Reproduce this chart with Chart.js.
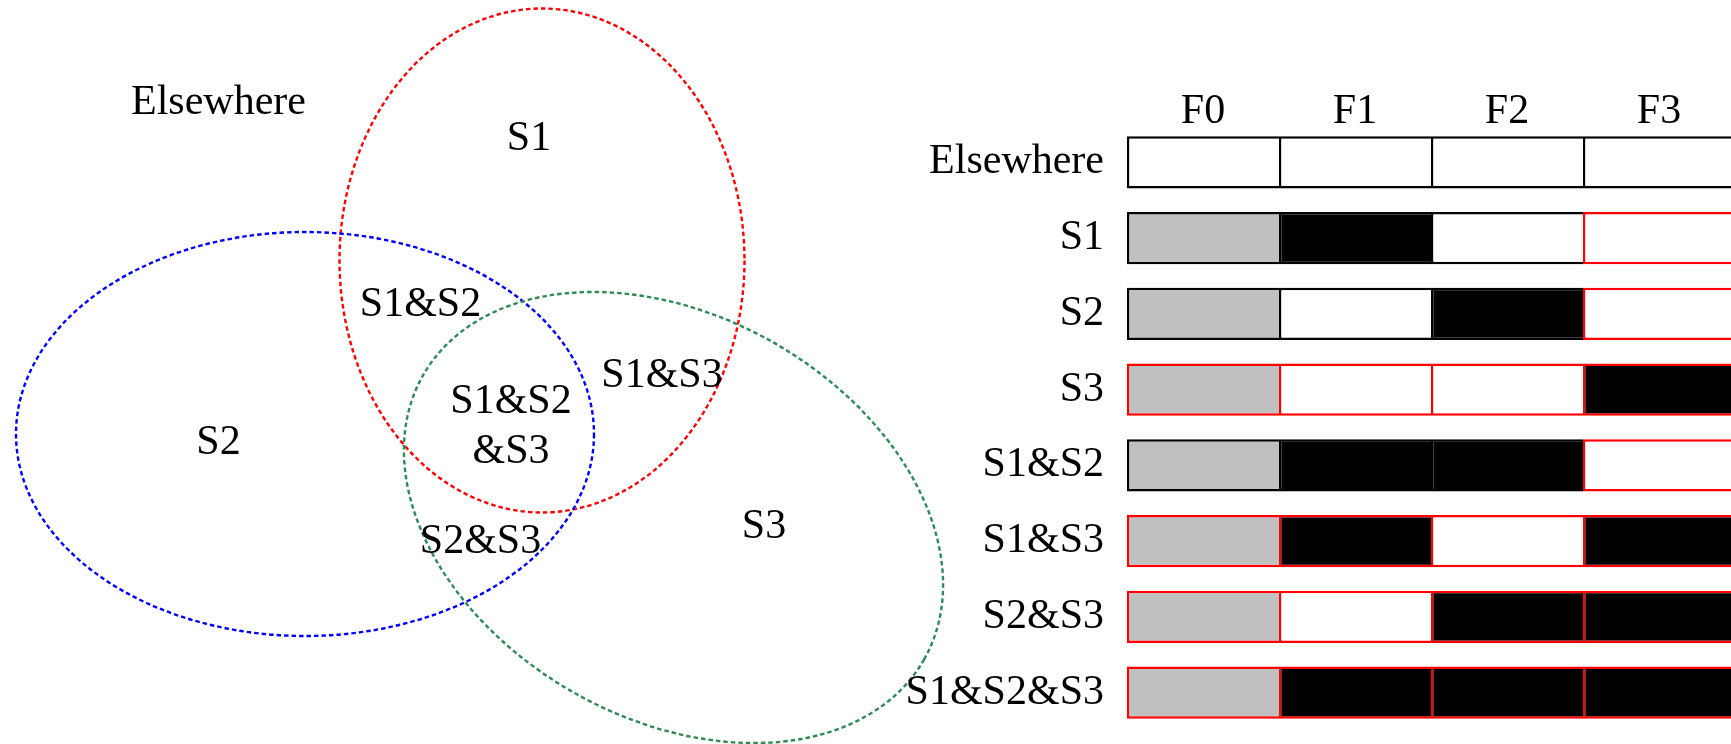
<!DOCTYPE html>
<html>
<head>
<meta charset="utf-8">
<script src="https://cdn.jsdelivr.net/npm/chart.js@4.4.0/dist/chart.umd.min.js"></script>
<style>
  html, body { margin: 0; padding: 0; background: #fff; overflow: hidden; width: 1731px; height: 744px; }
  #venn { position: absolute; left: 0; top: 0; }
  #grid { position: absolute; left: 860px; top: 0; }
</style>
</head>
<body>
<canvas id="venn" width="1731" height="744"></canvas>
<canvas id="grid" width="880" height="744"></canvas>
<script>
// Venn sets: centre, radii and tilt of each ellipse (in page units)
const vennSets = ['S1', 'S2', 'S3'];
const vennCx = [542, 305, 673.5];
const vennCy = [260.5, 434, 517.5];
const vennRx = [202.5, 289, 288];
const vennRy = [252, 202, 201.5];
const vennTilt = [0, 0, 29.5]; // degrees

// region names and where they sit
const regionText = ['Elsewhere', 'S1', 'S2', 'S1&S2', 'S1&S3', ['S1&S2', '&S3'], 'S2&S3', 'S3'];
const regionX = [218.5, 529, 218.5, 420.5, 662, 511, 480.5, 764];
const regionY = [114, 150, 454, 315.6, 387, 412.7, 553, 538];

// Table of regions x frames
const rows = ['Elsewhere', 'S1', 'S2', 'S3', 'S1&S2', 'S1&S3', 'S2&S3', 'S1&S2&S3'];
const columns = ['F0', 'F1', 'F2', 'F3'];
const span = [1, 1, 1, 1, 1, 1, 1, 1];

// w = white, k = black, g = grey
const f0State = ['w', 'g', 'g', 'g', 'g', 'g', 'g', 'g'];
const f1State = ['w', 'k', 'w', 'w', 'k', 'k', 'w', 'k'];
const f2State = ['w', 'w', 'k', 'w', 'k', 'w', 'k', 'k'];
const f3State = ['w', 'w', 'w', 'k', 'w', 'k', 'k', 'k'];

// k = black outline, r = red outline
const f0Edge = ['k', 'k', 'k', 'r', 'k', 'r', 'r', 'r'];
const f1Edge = ['k', 'k', 'k', 'r', 'k', 'r', 'r', 'r'];
const f2Edge = ['k', 'k', 'k', 'r', 'k', 'r', 'r', 'r'];
const f3Edge = ['k', 'r', 'r', 'r', 'r', 'r', 'r', 'r'];

const fillColor = { w: '#ffffff', k: '#000000', g: '#c0c0c0' };
const edgeColor = { k: '#000000', r: '#ff0000' };
const vennColors = ['#ff0000', '#0000ff', '#2e8b57'];
const serif = '"Liberation Serif", "Times New Roman", serif';

const states = [f0State, f1State, f2State, f3State];
const edges = [f0Edge, f1Edge, f2Edge, f3Edge];

// draws the dashed ellipses and the region names through the chart scales
const vennPlugin = {
    id: 'vennDraw',
    afterDatasetsDraw(chart) {
        const { ctx } = chart;
        const x = chart.scales.x;
        const y = chart.scales.y;
        ctx.save();
        ctx.lineWidth = 2.4;
        ctx.setLineDash([4.5, 3]);
        vennSets.forEach((name, i) => {
            const cx = x.getPixelForValue(vennCx[i]);
            const cy = y.getPixelForValue(vennCy[i]);
            const rx = Math.abs(x.getPixelForValue(vennCx[i] + vennRx[i]) - cx);
            const ry = Math.abs(y.getPixelForValue(vennCy[i] + vennRy[i]) - cy);
            ctx.beginPath();
            ctx.ellipse(cx, cy, rx, ry, vennTilt[i] * Math.PI / 180, 0, Math.PI * 2);
            ctx.strokeStyle = vennColors[i];
            ctx.stroke();
        });
        ctx.setLineDash([]);
        ctx.fillStyle = '#000';
        ctx.font = '42px ' + serif;
        ctx.textAlign = 'center';
        ctx.textBaseline = 'alphabetic';
        regionText.forEach((t, i) => {
            const lines = Array.isArray(t) ? t : [t];
            lines.forEach((line, k) => {
                ctx.fillText(line, x.getPixelForValue(regionX[i]), y.getPixelForValue(regionY[i] + k * 50.3));
            });
        });
        ctx.restore();
    }
};

new Chart(document.getElementById('venn').getContext('2d'), {
    type: 'scatter',
    data: { datasets: [] },
    options: {
        responsive: false,
        animation: false,
        events: [],
        layout: { padding: 0 },
        plugins: { legend: { display: false }, tooltip: { enabled: false } },
        scales: {
            x: { type: 'linear', min: 0, max: 1731, display: false },
            y: { type: 'linear', min: 0, max: 744, reverse: true, display: false }
        }
    },
    plugins: [vennPlugin]
});

// Frames table
new Chart(document.getElementById('grid').getContext('2d'), {
    type: 'bar',
    data: {
        labels: rows,
        datasets: columns.map((col, c) => ({
            label: col,
            data: span,
            backgroundColor: states[c].map(s => fillColor[s]),
            borderColor: edges[c].map(s => edgeColor[s]),
            borderWidth: c === columns.length - 1
                ? { top: 2.4, bottom: 2.4, left: 2.4, right: 2.4 }
                : { top: 2.4, bottom: 2.4, left: 2.4, right: 0 },
            borderSkipped: false,
            inflateAmount: 0,
            barPercentage: 0.6865,
            categoryPercentage: 1
        }))
    },
    options: {
        indexAxis: 'y',
        responsive: false,
        animation: false,
        events: [],
        layout: { padding: { top: 64.5, bottom: 13.5, left: 0, right: 5 } },
        plugins: { legend: { display: false }, tooltip: { enabled: false } },
        scales: {
            x: { type: 'linear', stacked: true, min: 0, max: 4, display: false },
            cols: {
                type: 'category',
                labels: columns,
                position: 'top',
                offset: true,
                grid: { display: false, drawTicks: false },
                border: { display: false },
                ticks: {
                    color: '#000',
                    font: { family: serif, size: 42, lineHeight: 0.62 },
                    padding: 0,
                    maxRotation: 0,
                    autoSkip: false
                },
                afterFit(scale) {
                    scale.height = 60;
                    scale.paddingLeft = 0;
                    scale.paddingRight = 0;
                }
            },
            y: {
                stacked: true,
                grid: { display: false, drawTicks: false },
                border: { display: false },
                ticks: {
                    color: '#000',
                    font: { family: serif, size: 42 },
                    padding: 23,
                    autoSkip: false
                },
                afterFit(scale) {
                    scale.width = 267;
                    scale.paddingTop = 0;
                    scale.paddingBottom = 0;
                }
            }
        }
    }
});
</script>
</body>
</html>
